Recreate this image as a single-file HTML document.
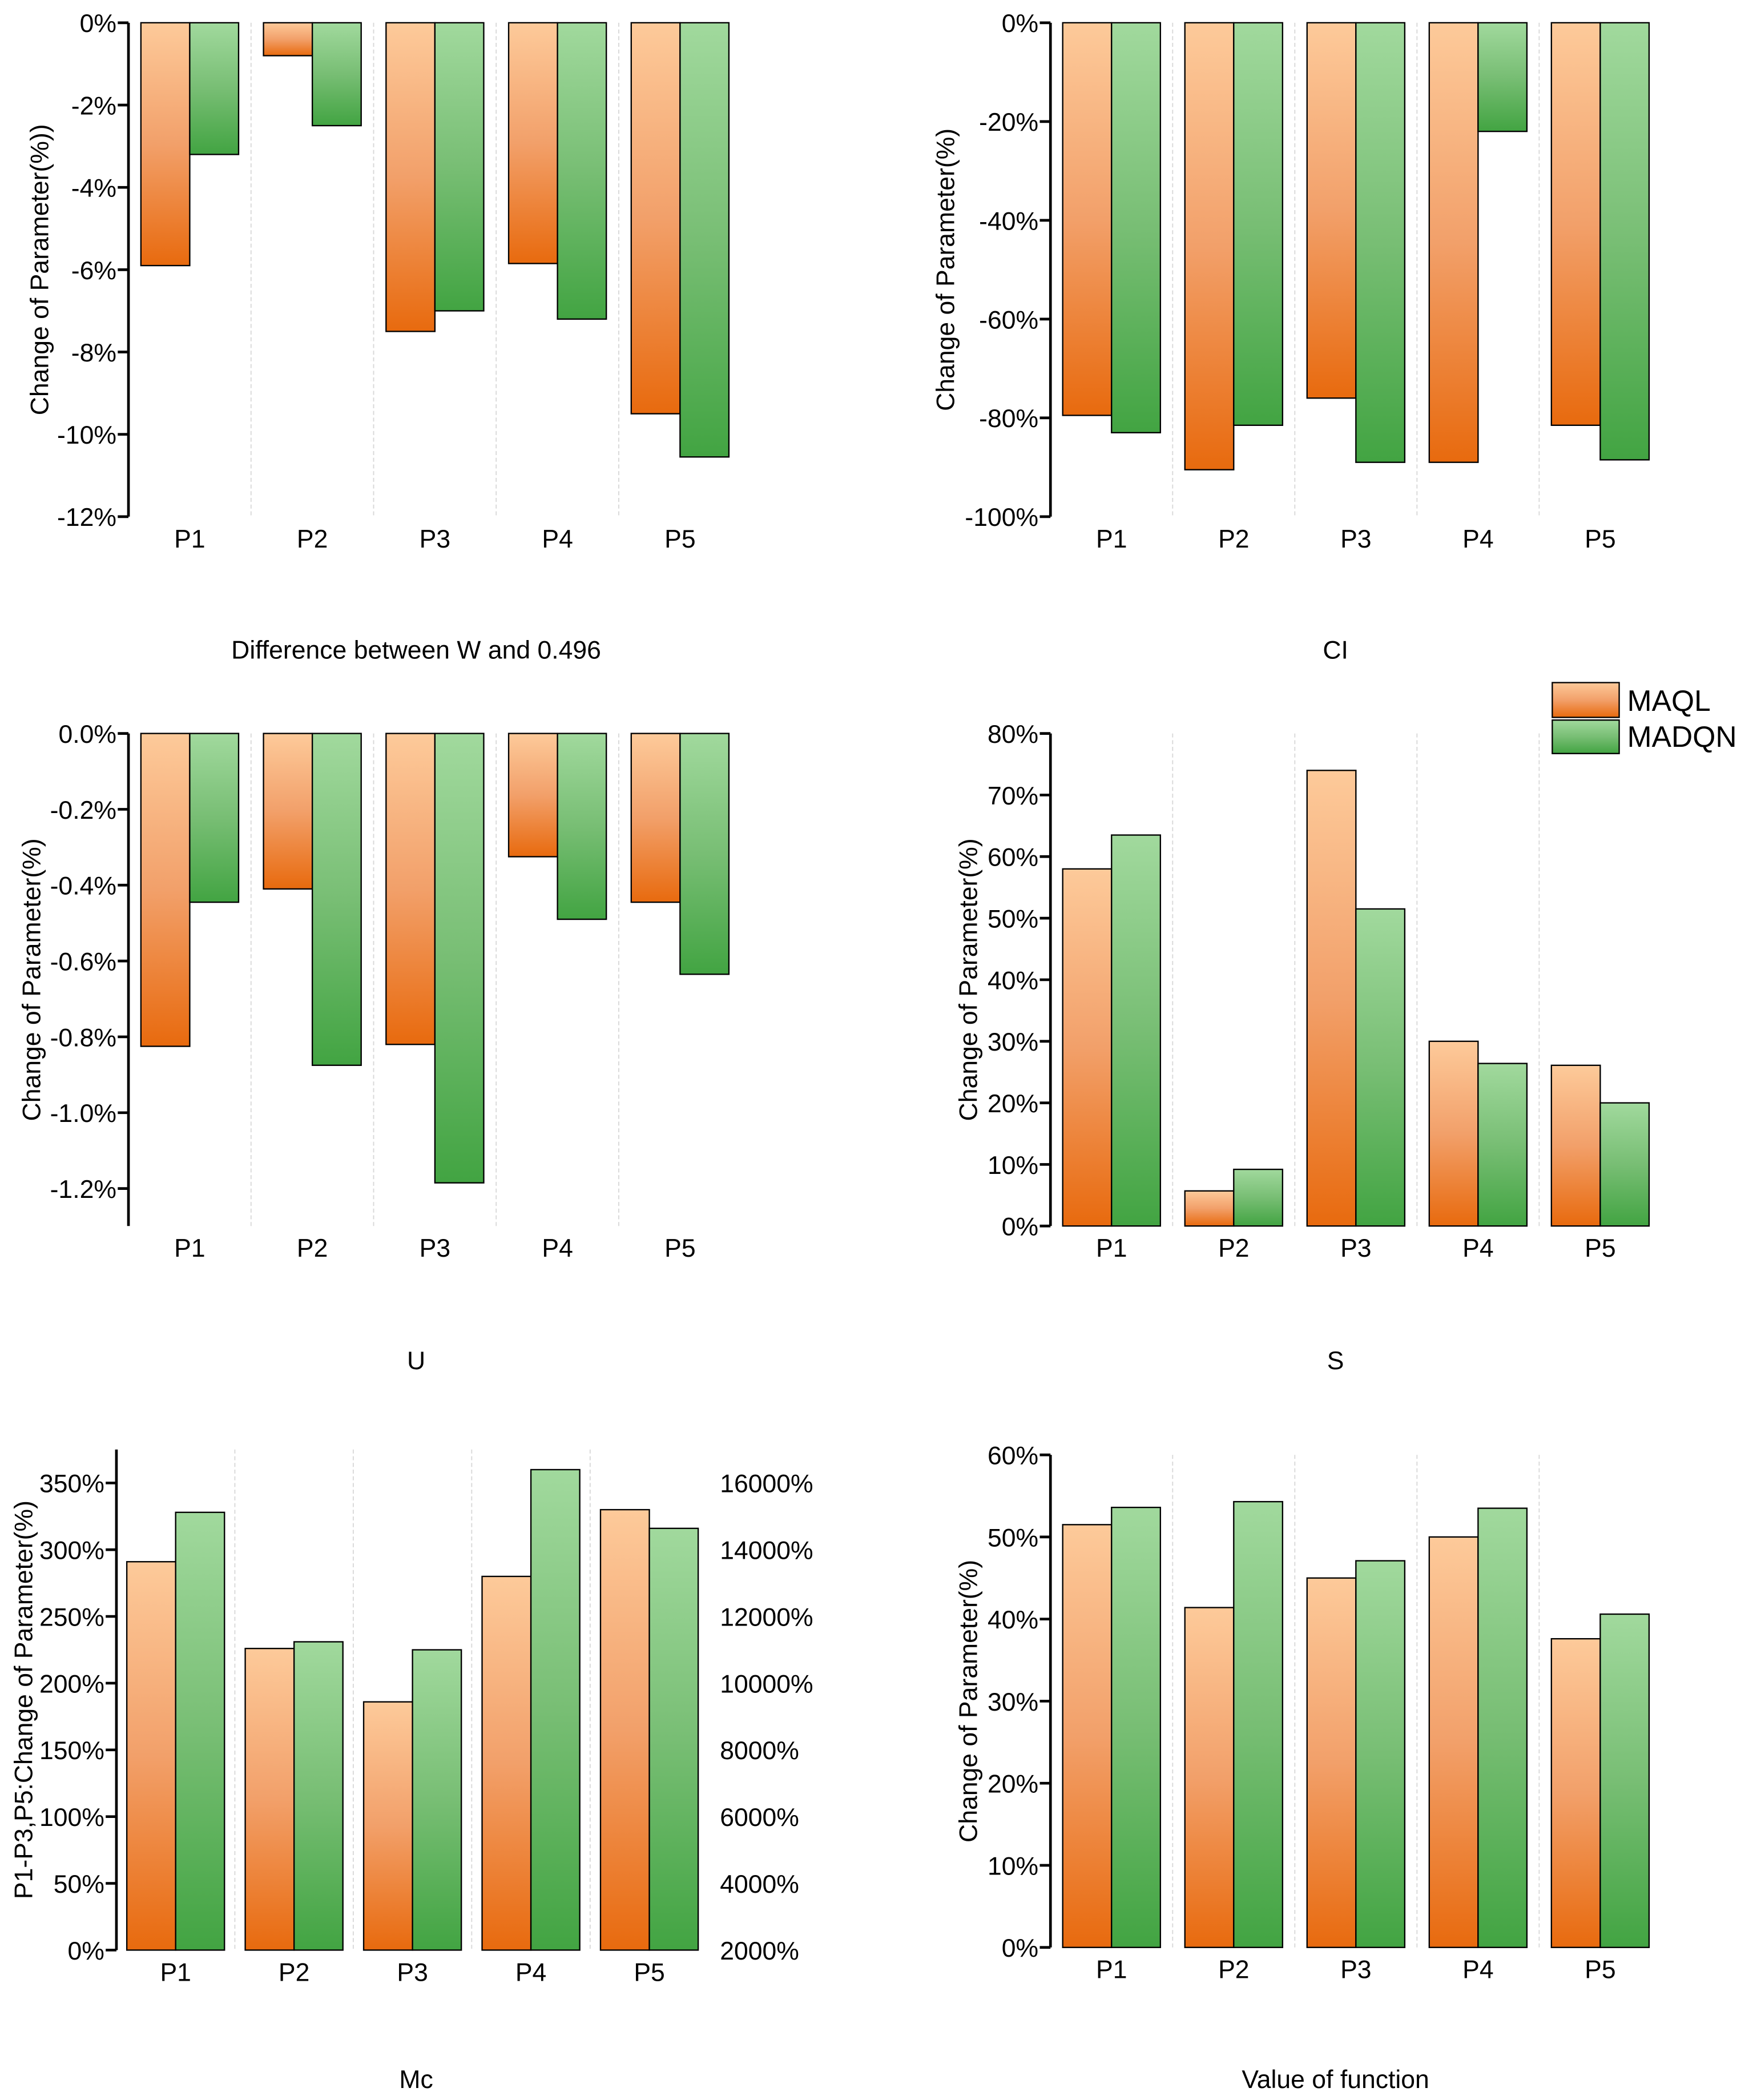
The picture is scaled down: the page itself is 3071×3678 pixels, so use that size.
<!DOCTYPE html>
<html><head><meta charset="utf-8"><style>
html,body{margin:0;padding:0;background:#fff;}
svg{display:block;}
text{font-family:"Liberation Sans",Arial,sans-serif;fill:#000;}
</style></head><body>
<svg id="fig" width="3071" height="3678" viewBox="0 0 1310 1569" preserveAspectRatio="none" xmlns="http://www.w3.org/2000/svg">
<defs>
<linearGradient id="gO" x1="0" y1="0" x2="0" y2="1"><stop offset="0" stop-color="#fdca9a"/><stop offset="0.5" stop-color="#f2a06a"/><stop offset="1" stop-color="#e86a0e"/></linearGradient>
<linearGradient id="gG" x1="0" y1="0" x2="0" y2="1"><stop offset="0" stop-color="#a1d99d"/><stop offset="0.5" stop-color="#78be74"/><stop offset="1" stop-color="#42a442"/></linearGradient>
</defs>
<g>
<rect x="1160" y="510" width="50" height="26" fill="url(#gO)" stroke="#000" stroke-width="1"/>
<text x="1216" y="531" font-size="22">MAQL</text>
<rect x="1160" y="538" width="50" height="25" fill="url(#gG)" stroke="#000" stroke-width="1"/>
<text x="1216" y="558" font-size="22">MADQN</text>
</g>
</svg>
<script>
const categories = ["P1","P2","P3","P4","P5"];
const wMaql = [-5.9,-0.8,-7.5,-5.85,-9.5];
const wMadqn = [-3.2,-2.5,-7.0,-7.2,-10.55];
const wTicks = [0,-2,-4,-6,-8,-10,-12];
const ciMaql = [-79.5,-90.5,-76,-89,-81.5];
const ciMadqn = [-83,-81.5,-89,-22,-88.5];
const ciTicks = [0,-20,-40,-60,-80,-100];
const uMaql = [-0.825,-0.41,-0.82,-0.325,-0.445];
const uMadqn = [-0.445,-0.875,-1.185,-0.49,-0.635];
const uTicks = [0,-0.2,-0.4,-0.6,-0.8,-1.0,-1.2];
const sMaql = [58,5.7,74,30,26.1];
const sMadqn = [63.5,9.2,51.5,26.4,20];
const sTicks = [0,10,20,30,40,50,60,70,80];
const mcMaql = [291,226,186,280,330];
const mcMadqn = [328,231,225,360,316];
const mcTicks = [0,50,100,150,200,250,300,350];
const mcRightTicks = [2000,4000,6000,8000,10000,12000,14000,16000];
const vMaql = [51.5,41.4,45,50,37.6];
const vMadqn = [53.6,54.3,47.1,53.5,40.6];
const vTicks = [0,10,20,30,40,50,60];

const NS="http://www.w3.org/2000/svg";
const svg=document.getElementById('fig');
const FS=19;
function mk(tag,attrs,parent){const e=document.createElementNS(NS,tag);for(const k in attrs)e.setAttribute(k,attrs[k]);parent.appendChild(e);return e;}

function chart(o){
  const g=mk('g',{},svg);
  
  
  const y=v=>o.y0+(v-o.d0)/(o.d1-o.d0)*(o.y1-o.y0);
  const band=o.band;
  for(let i=1;i<categories.length;i++){
    const l=mk('line',{x1:o.ax+band*i,x2:o.ax+band*i,y1:o.top,y2:o.bottom,stroke:'#d8d8d8','stroke-width':0.8,'stroke-dasharray':'3,2'},g);
    
    
  }
  const bw=36.5;
  categories.forEach((c,i)=>{
    const cx=o.ax+band*(i+0.5);
    const base=y(o.base);
    [[o.s1,'url(#gO)',-bw],[o.s2,'url(#gG)',0]].forEach((s,k)=>{
      const vy=y(s[0][i]);
      const r=mk('rect',{x:cx+s[2],y:Math.min(base,vy),width:bw,height:Math.abs(vy-base),fill:s[1],stroke:'#000','stroke-width':1},g);
      
      
    });
    const t=mk('text',{x:cx,y:o.catY,'font-size':FS,'text-anchor':'middle'},g);
    t.textContent=c;
    
    
  });
  const ax=mk('line',{x1:o.ax,x2:o.ax,y1:o.top,y2:o.bottom,stroke:'#000','stroke-width':2},g);
  
  
  o.ticks.forEach(v=>{
    const ty=y(v);
    mk('line',{x1:o.ax-8,x2:o.ax,y1:ty,y2:ty,stroke:'#000','stroke-width':2},g);
    const t=mk('text',{x:o.ax-9,y:ty+7,'font-size':FS,'text-anchor':'end'},g);
    t.textContent=o.fmt(v);
    
    
  });
  if(o.rticks){
    o.rticks.forEach(v=>{
      const ty=o.y0+(v-o.rd0)/(o.rd1-o.rd0)*(o.y1-o.y0);
      const t=mk('text',{x:o.rx,y:ty+7,'font-size':FS,'text-anchor':'start'},g);
      t.textContent=v+'%';
      
      
    });
  }
  const yt=mk('text',{x:o.titleX,y:(o.top+o.bottom)/2,'font-size':FS,'text-anchor':'middle',transform:`rotate(-90 ${o.titleX} ${(o.top+o.bottom)/2})`},g);
  yt.textContent=o.ytitle;
  
  
  const st=mk('text',{x:o.subX,y:o.subY,'font-size':FS,'text-anchor':'middle'},g);
  st.textContent=o.sub;
  
  
}
const pct0=v=>v+'%';
const pct1=v=>v.toFixed(1)+'%';
chart({name:'chart-w-difference',ax:96,band:91.6,top:17,bottom:386,y0:17,y1:386,d0:0,d1:-12,base:0,s1:wMaql,s2:wMadqn,ticks:wTicks,fmt:pct0,catY:409,titleX:36,ytitle:'Change of Parameter(%))',sub:'Difference between W and 0.496',subX:311,subY:492});
chart({name:'chart-ci',ax:785,band:91.3,top:17,bottom:386,y0:17,y1:386,d0:0,d1:-100,base:0,s1:ciMaql,s2:ciMadqn,ticks:ciTicks,fmt:pct0,catY:409,titleX:713,ytitle:'Change of Parameter(%)',sub:'CI',subX:998,subY:492});
chart({name:'chart-u',ax:96,band:91.6,top:548,bottom:916,y0:548,y1:888,d0:0,d1:-1.2,base:0,s1:uMaql,s2:uMadqn,ticks:uTicks,fmt:pct1,catY:939,titleX:30,ytitle:'Change of Parameter(%)',sub:'U',subX:311,subY:1023});
chart({name:'chart-s',ax:785,band:91.3,top:548,bottom:916,y0:916,y1:548,d0:0,d1:80,base:0,s1:sMaql,s2:sMadqn,ticks:sTicks,fmt:pct0,catY:939,titleX:730,ytitle:'Change of Parameter(%)',sub:'S',subX:998,subY:1023});
chart({name:'chart-mc',ax:87,band:88.5,top:1083,bottom:1457,y0:1457,y1:1108,d0:0,d1:350,base:0,s1:mcMaql,s2:mcMadqn,ticks:mcTicks,fmt:pct0,catY:1480,titleX:24,ytitle:'P1-P3,P5:Change of Parameter(%)',sub:'Mc',subX:311,subY:1560,rticks:mcRightTicks,rd0:2000,rd1:16000,rx:538});
chart({name:'chart-value-function',ax:785,band:91.3,top:1087,bottom:1455,y0:1455,y1:1087,d0:0,d1:60,base:0,s1:vMaql,s2:vMadqn,ticks:vTicks,fmt:pct0,catY:1478,titleX:730,ytitle:'Change of Parameter(%)',sub:'Value of function',subX:998,subY:1560});
</script>
</body></html>
